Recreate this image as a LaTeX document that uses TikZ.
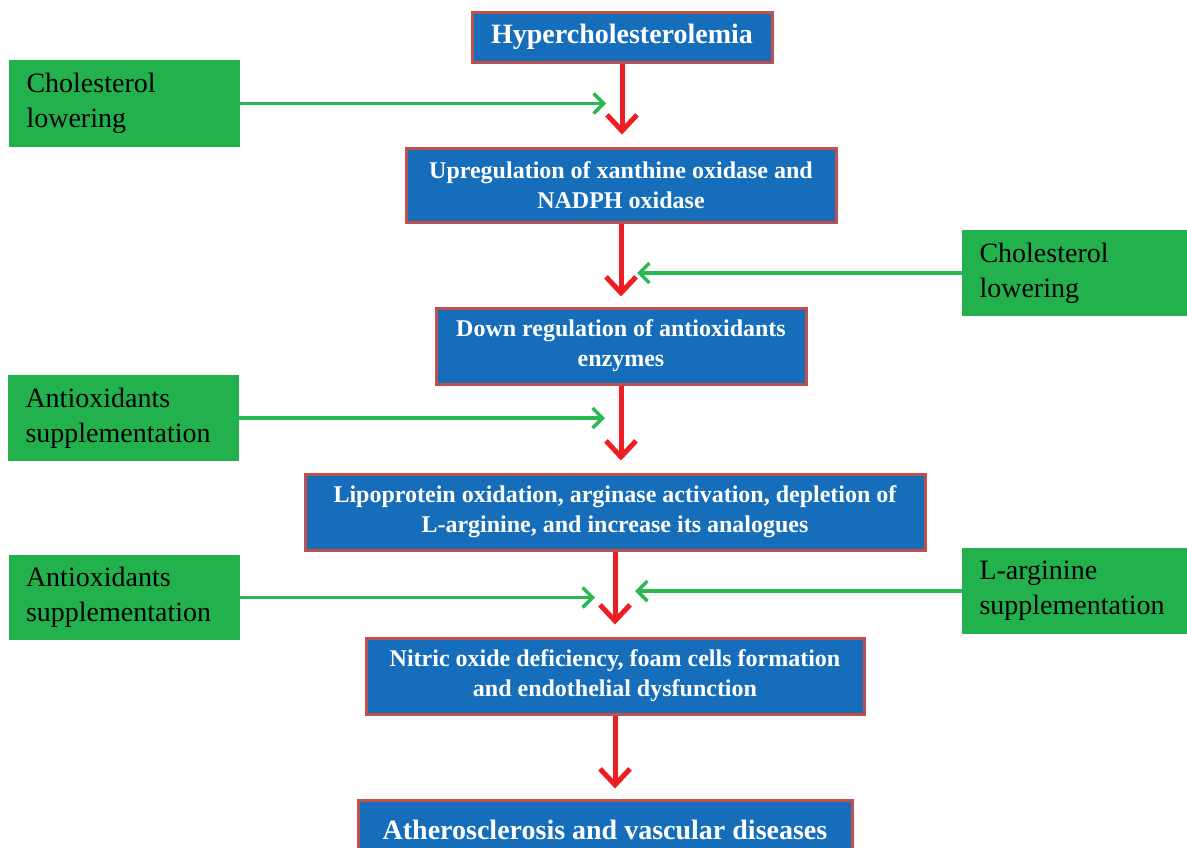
\documentclass[tikz,border=0pt]{standalone}
\usepackage{fontspec}
\setmainfont{Liberation Serif}
\usetikzlibrary{arrows.meta}
\definecolor{boxblue}{RGB}{22,110,186}
\definecolor{boxred}{RGB}{192,80,77}
\definecolor{fixgreen}{RGB}{34,177,76}
\definecolor{arrgreen}{RGB}{40,185,80}
\definecolor{arrred}{RGB}{236,30,36}
\tikzset{
  stage/.style={draw=boxred,line width=1.5pt,fill=boxblue,text=white,
    font=\bfseries\fontsize{12}{15}\selectfont,align=center,inner sep=0pt},
  bigstage/.style={stage,font=\bfseries\fontsize{14}{17}\selectfont},
  remedy/.style={fill=fixgreen,font=\fontsize{14}{17.5}\selectfont,align=left,
    inner xsep=8.75pt,inner ysep=0pt},
  down/.style={arrred,line width=2.5pt,-{Straight Barb[length=8pt,width=15pt]}},
  cure/.style={arrgreen,line width=1.75pt,-{Straight Barb[length=5pt,width=10pt]}}
}
\begin{document}
\begin{tikzpicture}[x=0.5pt,y=-0.5pt]
\useasboundingbox (0,0) rectangle (1187,847);
% main chain
\node[bigstage,minimum width=150pt,minimum height=25pt](hyper)at(622,37){Hypercholesterolemia};
\node[stage,minimum width=215pt,minimum height=37pt](upreg)at(621,185){Upregulation of xanthine oxidase and\\NADPH oxidase};
\node[stage,minimum width=185pt,minimum height=38pt](downreg)at(621,346){Down regulation of antioxidants\\enzymes};
\node[stage,minimum width=310pt,minimum height=38pt](lipo)at(615,512){Lipoprotein oxidation, arginase activation, depletion of\\L-arginine, and increase its analogues};
\node[stage,minimum width=249pt,minimum height=38pt](nitric)at(615,676){Nitric oxide deficiency, foam cells formation\\and endothelial dysfunction};
\node[bigstage,minimum width=247pt,minimum height=30pt](athero)at(605,830){Atherosclerosis and vascular diseases};
% interventions
\node[remedy,text width=98pt,minimum height=43.5pt](chol1)at(124.5,103.5){Cholesterol\\lowering};
\node[remedy,text width=95pt,minimum height=43pt](chol2)at(1074.5,273){Cholesterol\\lowering};
\node[remedy,text width=98pt,minimum height=43pt](anti1)at(123.5,418){Antioxidants\\supplementation};
\node[remedy,text width=98pt,minimum height=42.5pt](anti2)at(124,597.5){Antioxidants\\supplementation};
\node[remedy,text width=95pt,minimum height=43pt](larg)at(1074.5,591){L-arginine\\supplementation};
% red arrows
\draw[down,shorten >=6pt](hyper.south)--(hyper.south|-upreg.north);
\draw[down,shorten >=5pt](upreg.south)--(upreg.south|-downreg.north);
\draw[down,shorten >=6pt](downreg.south)--(downreg.south|-lipo.north);
\draw[down,shorten >=6pt](lipo.south)--(lipo.south|-nitric.north);
\draw[down,shorten >=5pt](nitric.south)--(nitric.south|-athero.north);
% green arrows
\draw[cure,shorten >=8pt](chol1.east)--(chol1.east-|hyper.south);
\draw[cure,shorten >=8pt](chol2.west)--(chol2.west-|upreg.south);
\draw[cure,shorten >=8pt](anti1.east)--(anti1.east-|downreg.south);
\draw[cure,shorten >=10pt](anti2.east)--(anti2.east-|lipo.south);
\draw[cure,shorten >=10pt](larg.west)--(larg.west-|lipo.south);
\end{tikzpicture}
\end{document}
